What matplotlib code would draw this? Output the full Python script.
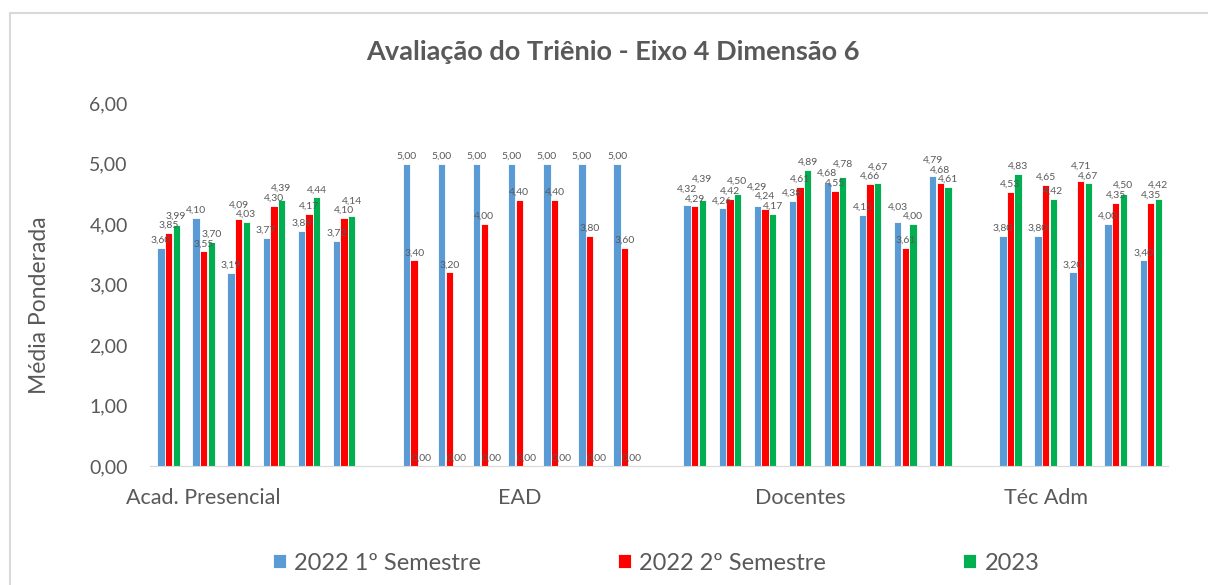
import numpy as np
import matplotlib
matplotlib.use('Agg')
import matplotlib.pyplot as plt
from matplotlib.lines import Line2D

# dados
grupos = ['Acad. Presencial', 'EAD', 'Docentes', 'Téc Adm']
tamanhos = [6, 7, 8, 5]
series = ['2022 1º Semestre', '2022 2º Semestre', '2023']
cores = ['#5B9BD5', '#FF0000', '#00B050']

sem1_2022 = [3.60, 4.10, 3.19, 3.77, 3.89, 3.72,
             5.00, 5.00, 5.00, 5.00, 5.00, 5.00, 5.00,
             4.32, 4.26, 4.29, 4.38, 4.68, 4.15, 4.03, 4.79,
             3.80, 3.80, 3.20, 4.00, 3.40]
sem2_2022 = [3.85, 3.55, 4.09, 4.30, 4.17, 4.10,
             3.40, 3.20, 4.00, 4.40, 4.40, 3.80, 3.60,
             4.29, 4.42, 4.24, 4.61, 4.55, 4.66, 3.61, 4.68,
             4.53, 4.65, 4.71, 4.35, 4.35]
ano_2023 = [3.99, 3.70, 4.03, 4.39, 4.44, 4.14,
            0.00, 0.00, 0.00, 0.00, 0.00, 0.00, 0.00,
            4.39, 4.50, 4.17, 4.89, 4.78, 4.67, 4.00, 4.61,
            4.83, 4.42, 4.67, 4.50, 4.42]

cinza = '#595959'
plt.rcParams['font.family'] = ['Lato', 'DejaVu Sans']

# posições: um espaço vazio entre os grupos
pos = []
inicio = 0
for n in tamanhos:
    pos += list(range(inicio, inicio + n))
    inicio += n + 1
pos = np.array(pos)

fig = plt.figure(figsize=(12.08, 5.85), dpi=100)
ax = fig.add_axes([150/1208, 1-466/585, (1168-150)/1208, (466-103)/585])

desloc = 0.217
larg = 0.21
todas = [sem1_2022, sem2_2022, ano_2023]
for i, (vals, cor) in enumerate(zip(todas, cores)):
    ax.bar(pos + (i - 1) * desloc, vals, width=larg, color=cor, edgecolor='white',
           linewidth=0.6, label=series[i])

# rótulos: empilhados quando ficam muito próximos dentro do mesmo cluster
for k, p in enumerate(pos):
    vals = [todas[i][k] for i in range(3)]
    ordem = np.argsort(vals)
    ult = -10
    for i in ordem:
        y = max(vals[i] + 0.05, ult + 0.16)
        ult = y
        ax.text(p + (i - 1) * desloc, y, f'{vals[i]:.2f}'.replace('.', ','),
                ha='center', va='bottom', fontsize=7.5, color=cinza)

ax.set_xlim(-0.53, 28.49)
ax.set_ylim(0, 6)
ax.set_yticks(np.arange(0, 7, 1))
ax.set_yticklabels([f'{v:.2f}'.replace('.', ',') for v in np.arange(0, 7, 1)])
ax.set_xticks([1, 10, 18, 25])
ax.set_xticklabels(grupos)
ax.tick_params(axis='y', length=0, pad=16, labelsize=14, labelcolor=cinza)
ax.tick_params(axis='x', length=0, pad=16, labelsize=15.5, labelcolor=cinza)
for s in ['top', 'right', 'left']:
    ax.spines[s].set_visible(False)
ax.spines['bottom'].set_color('#D9D9D9')

fig.text(613/1208, 1-52/585, 'Avaliação do Triênio - Eixo 4 Dimensão 6', ha='center', va='center',
         fontsize=19.5, fontweight='bold', color=cinza)
fig.text(40/1208, 1-305/585, 'Média Ponderada', rotation=90, ha='center', va='center',
         fontsize=16.5, color=cinza)

fig.legend(loc='center left', bbox_to_anchor=(273/1208, 1-563/585), ncol=3, frameon=False,
           fontsize=17, handlelength=0.55, handleheight=0.55, handletextpad=0.35,
           columnspacing=5.8, borderaxespad=0, borderpad=0, labelcolor=cinza)

# moldura do gráfico
fig.add_artist(Line2D([10/1208, 10/1208], [0, 1-13/585], color='#D9D9D9', linewidth=1.5))
fig.add_artist(Line2D([10/1208, 1], [1-13/585, 1-13/585], color='#D9D9D9', linewidth=1.5))

plt.savefig('out.png', dpi=100)
